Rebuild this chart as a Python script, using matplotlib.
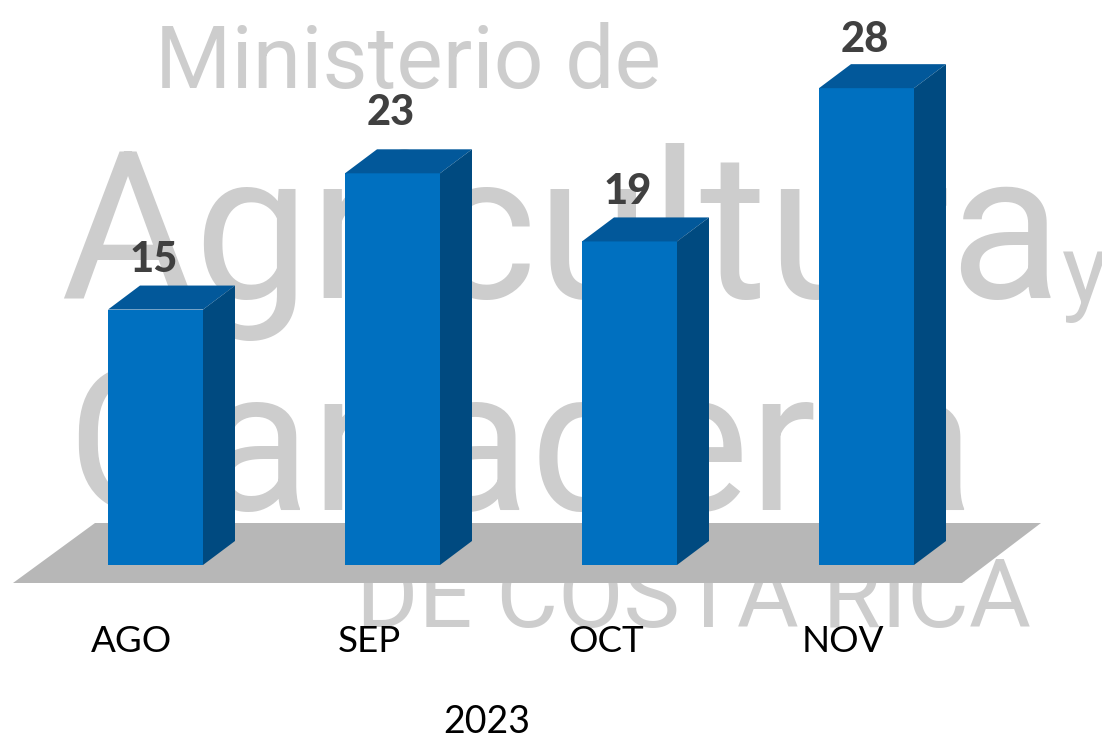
import matplotlib
matplotlib.use("Agg")
import matplotlib.pyplot as plt
from matplotlib.patches import Polygon

months = ["AGO", "SEP", "OCT", "NOV"]
values = [15, 23, 19, 28]
year_label = "2023"
watermark_lines = ["Ministerio de", "Agricultura", "y", "Ganadería", "DE COSTA RICA"]

W, H = 1102, 742
PX_X = 237.0      # pixels per category
PX_Y = 17.03      # pixels per unit
BASE_PX = 565.0
X0_PX = 155.5
BAR_W = 95 / PX_X
DX = 32 / PX_X
DY = 24 / PX_Y

fig = plt.figure(figsize=(W / 100, H / 100), dpi=100, facecolor="white")
ax = fig.add_axes([0, 0, 1, 1])
ax.set_xlim(-X0_PX / PX_X, (W - X0_PX) / PX_X)
ax.set_ylim(-(H - BASE_PX) / PX_Y, BASE_PX / PX_Y)
ax.axis("off")

def X(px): return (px - X0_PX) / PX_X
def Y(py): return (BASE_PX - py) / PX_Y

wm = "#cdcdcd"
wm_font = "Roboto"
wm_specs = [
    (watermark_lines[0], 155, 88, 63),
    (watermark_lines[1], 60, 298, 148),
    (watermark_lines[2], 1062, 302, 70),
    (watermark_lines[3], 66, 510, 144),
    (watermark_lines[4], 356, 627, 68.5),
]
for s, x, y, size in wm_specs:
    ax.text(X(x), Y(y), s, color=wm, fontsize=size, family=wm_font,
            ha="left", va="baseline", zorder=1, clip_on=True)

# floor
ax.add_patch(Polygon([(X(13), Y(583)), (X(962), Y(583)), (X(1041), Y(523)), (X(95), Y(523))],
                     closed=True, fc="#b7b7b7", ec="none", zorder=2))

# value-label lift above each bar, in pixels
label_lift = [38, 48, 37, 36]

xs = list(range(len(values)))
ax.bar(xs, values, width=BAR_W, color="#0070c0", zorder=4)
for x, v, lift in zip(xs, values, label_lift):
    l, r = x - BAR_W / 2, x + BAR_W / 2
    ax.add_patch(Polygon([(l, v), (r, v), (r + DX, v + DY), (l + DX, v + DY)],
                         closed=True, fc="#02589a", ec="none", zorder=4))
    ax.add_patch(Polygon([(r, 0), (r + DX, DY), (r + DX, v + DY), (r, v)],
                         closed=True, fc="#004a80", ec="none", zorder=4))
    ax.text(x - 0.006, v + lift / PX_Y, str(v), ha="center", va="baseline", fontsize=30,
            fontweight="black", color="#404040", family="Lato", zorder=5)

label_x = [132, 369, 606, 843]
for m, px in zip(months, label_x):
    ax.text(X(px), Y(652), m, ha="center", va="baseline", fontsize=26.5,
            color="black", family="Lato", zorder=5)
ax.text(X(487), Y(733), year_label, ha="center", va="baseline", fontsize=27,
        color="black", family="Lato", zorder=5)

fig.savefig("out.png", dpi=100, facecolor="white")
